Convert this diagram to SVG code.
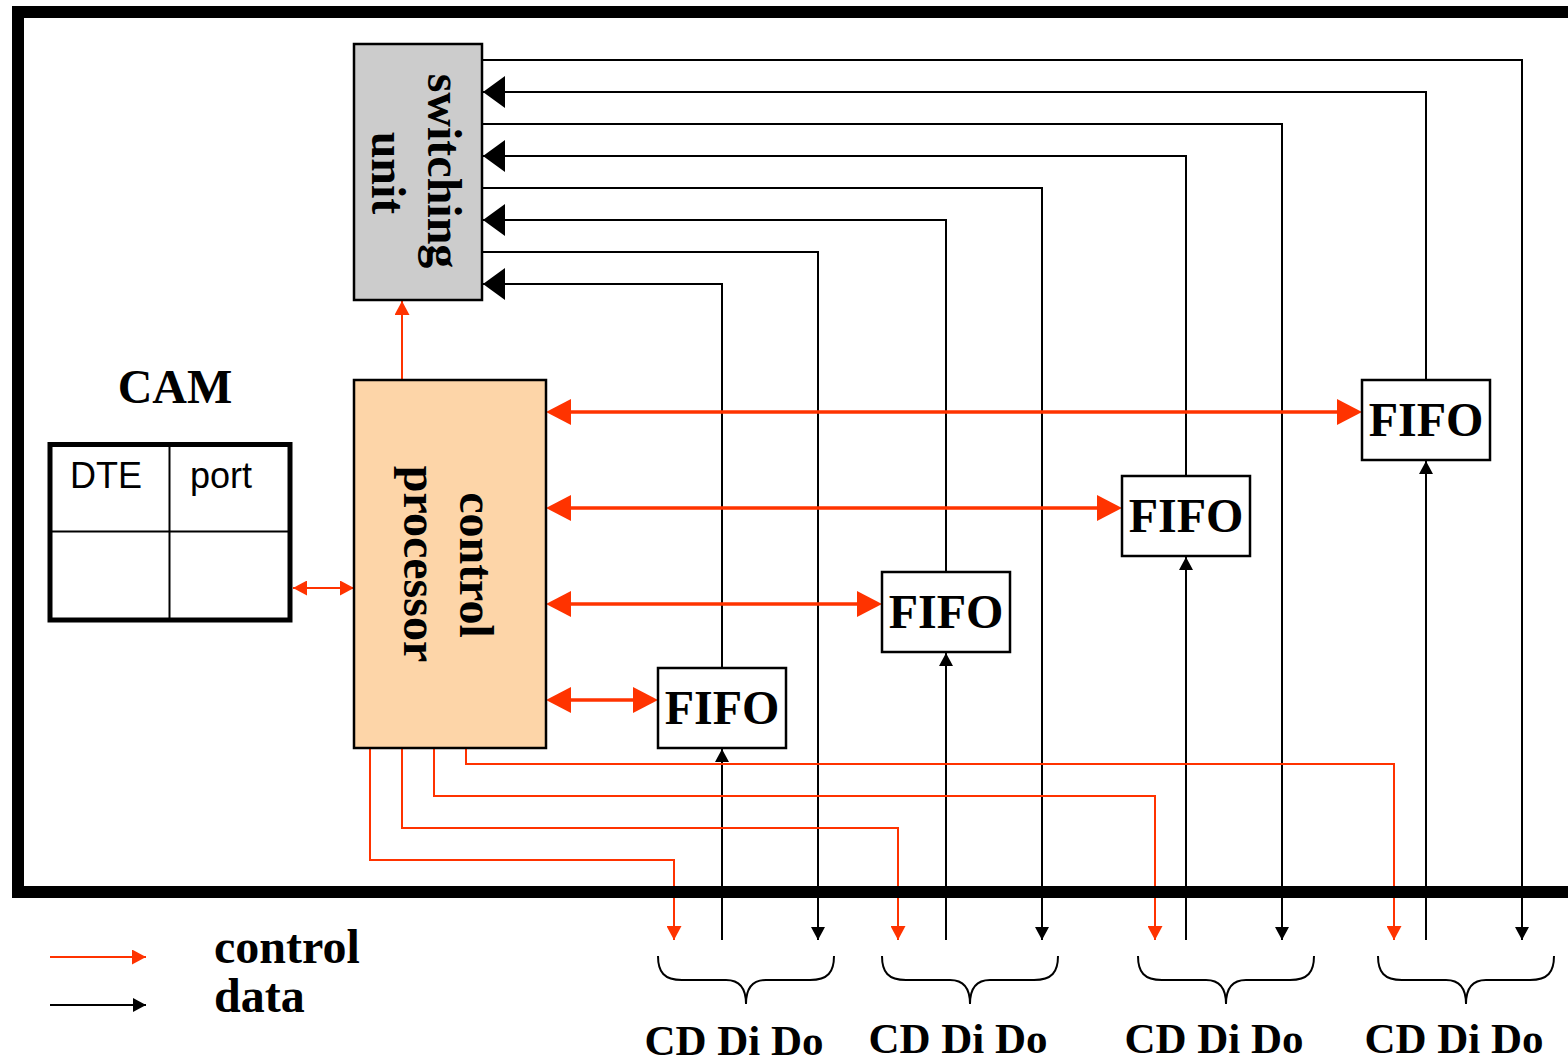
<svg xmlns="http://www.w3.org/2000/svg" width="1568" height="1062" viewBox="0 0 1568 1062">
<style>
.t{font-family:"Liberation Serif","Times New Roman",serif;font-weight:bold;font-size:48px;fill:#000}
.s{font-family:"Liberation Sans",Arial,sans-serif;font-size:36px;fill:#000}
.lk{fill:none;stroke:#000;stroke-width:2}
.lr{fill:none;stroke:#ff3300;stroke-width:2}
.lrt{fill:none;stroke:#ff3300;stroke-width:3.5}
.box{fill:#fff;stroke:#000;stroke-width:2.5}
.brace{fill:none;stroke:#000;stroke-width:2}
</style>
<defs>
<marker id="ak" markerUnits="userSpaceOnUse" markerWidth="14" markerHeight="14" refX="13" refY="7" orient="auto"><path d="M0,0 L13,7 L0,14 z" fill="#000"/></marker>
<marker id="ar" markerUnits="userSpaceOnUse" markerWidth="15" markerHeight="15" refX="14" refY="7.5" orient="auto-start-reverse"><path d="M0,0 L14,7.5 L0,15 z" fill="#ff3300"/></marker>
<marker id="akb" markerUnits="userSpaceOnUse" markerWidth="23" markerHeight="32" refX="22" refY="16" orient="auto"><path d="M0,0 L22,16 L0,32 z" fill="#000"/></marker>
<marker id="arb" markerUnits="userSpaceOnUse" markerWidth="26" markerHeight="26" refX="21" refY="13" orient="auto-start-reverse"><path d="M0,0 L25,13 L0,26 z" fill="#ff3300"/></marker>
</defs>
<rect x="0" y="0" width="1568" height="1062" fill="#fff"/>

<g id="connectors">
  <path class="lk" d="M482,60 H1522 V940" marker-end="url(#ak)"/>
  <path class="lk" d="M482,124 H1282 V940" marker-end="url(#ak)"/>
  <path class="lk" d="M482,188 H1042 V940" marker-end="url(#ak)"/>
  <path class="lk" d="M482,252 H818 V940" marker-end="url(#ak)"/>
  <path class="lk" d="M1426,380 V92 H483" marker-end="url(#akb)"/>
  <path class="lk" d="M1186,476 V156 H483" marker-end="url(#akb)"/>
  <path class="lk" d="M946,572 V220 H483" marker-end="url(#akb)"/>
  <path class="lk" d="M722,668 V284 H483" marker-end="url(#akb)"/>
  <path class="lk" d="M722,940 V749" marker-end="url(#ak)"/>
  <path class="lk" d="M946,940 V653" marker-end="url(#ak)"/>
  <path class="lk" d="M1186,940 V557" marker-end="url(#ak)"/>
  <path class="lk" d="M1426,940 V461" marker-end="url(#ak)"/>
  <path class="lrt" d="M550,412 H1358" marker-start="url(#arb)" marker-end="url(#arb)"/>
  <path class="lrt" d="M550,508 H1118" marker-start="url(#arb)" marker-end="url(#arb)"/>
  <path class="lrt" d="M550,604 H878" marker-start="url(#arb)" marker-end="url(#arb)"/>
  <path class="lrt" d="M550,700 H654" marker-start="url(#arb)" marker-end="url(#arb)"/>
  <path class="lr" d="M402,380 V301" marker-end="url(#ar)"/>
  <path class="lr" d="M293,588 H354" marker-start="url(#ar)" marker-end="url(#ar)"/>
  <path class="lr" d="M370,748 V860 H674 V940" marker-end="url(#ar)"/>
  <path class="lr" d="M402,748 V828 H898 V940" marker-end="url(#ar)"/>
  <path class="lr" d="M434,748 V796 H1155 V940" marker-end="url(#ar)"/>
  <path class="lr" d="M466,748 V764 H1394 V940" marker-end="url(#ar)"/>
</g>

<rect id="frame" x="18" y="12" width="1560" height="880" fill="none" stroke="#000" stroke-width="12"/>

<g id="switching-unit">
  <rect x="354" y="44" width="128" height="256" fill="#cccccc" stroke="#000" stroke-width="2.5"/>
  <text class="t" text-anchor="middle" transform="translate(428,171) rotate(90)">switching</text>
  <text class="t" text-anchor="middle" transform="translate(372,173) rotate(90)">unit</text>
</g>

<g id="control-processor">
  <rect x="354" y="380" width="192" height="368" fill="#fdd5a8" stroke="#000" stroke-width="2.5"/>
  <text class="t" text-anchor="middle" transform="translate(460,565) rotate(90)">control</text>
  <text class="t" text-anchor="middle" transform="translate(404,564) rotate(90)">processor</text>
</g>

<g id="cam">
  <text class="t" x="175" y="403" text-anchor="middle">CAM</text>
  <rect x="50" y="444.5" width="240" height="175.5" fill="#fff" stroke="#000" stroke-width="5"/>
  <line x1="169.5" y1="444" x2="169.5" y2="620" stroke="#000" stroke-width="2"/>
  <line x1="50" y1="531.5" x2="290" y2="531.5" stroke="#000" stroke-width="2"/>
  <text class="s" x="70" y="488">DTE</text>
  <text class="s" x="190" y="488">port</text>
</g>

<g id="fifo1"><rect class="box" x="658" y="668" width="128" height="80"/><text class="t" x="722" y="724" text-anchor="middle">FIFO</text></g>
<g id="fifo2"><rect class="box" x="882" y="572" width="128" height="80"/><text class="t" x="946" y="628" text-anchor="middle">FIFO</text></g>
<g id="fifo3"><rect class="box" x="1122" y="476" width="128" height="80"/><text class="t" x="1186" y="532" text-anchor="middle">FIFO</text></g>
<g id="fifo4"><rect class="box" x="1362" y="380" width="128" height="80"/><text class="t" x="1426" y="436" text-anchor="middle">FIFO</text></g>

<g id="port1">
  <path class="brace" d="M658,956 C658,972 664,980 682,980 H726 C740,980 746,988 746,1004 C746,988 752,980 766,980 H810 C828,980 834,972 834,956"/>
  <text class="t" x="734" y="1055" text-anchor="middle" style="font-size:43px">CD Di Do</text>
</g>
<g id="port2">
  <path class="brace" d="M882,956 C882,972 888,980 906,980 H950 C964,980 970,988 970,1004 C970,988 976,980 990,980 H1034 C1052,980 1058,972 1058,956"/>
  <text class="t" x="958" y="1053" text-anchor="middle" style="font-size:43px">CD Di Do</text>
</g>
<g id="port3">
  <path class="brace" d="M1138,956 C1138,972 1144,980 1162,980 H1206 C1220,980 1226,988 1226,1004 C1226,988 1232,980 1246,980 H1290 C1308,980 1314,972 1314,956"/>
  <text class="t" x="1214" y="1053" text-anchor="middle" style="font-size:43px">CD Di Do</text>
</g>
<g id="port4">
  <path class="brace" d="M1378,956 C1378,972 1384,980 1402,980 H1446 C1460,980 1466,988 1466,1004 C1466,988 1472,980 1486,980 H1530 C1548,980 1554,972 1554,956"/>
  <text class="t" x="1454" y="1053" text-anchor="middle" style="font-size:43px">CD Di Do</text>
</g>

<g id="legend">
  <path class="lr" d="M50,957 H146" marker-end="url(#ar)"/>
  <path class="lk" d="M50,1005 H146" marker-end="url(#ak)"/>
  <text class="t" x="214" y="963">control</text>
  <text class="t" x="214" y="1012">data</text>
</g>
</svg>
